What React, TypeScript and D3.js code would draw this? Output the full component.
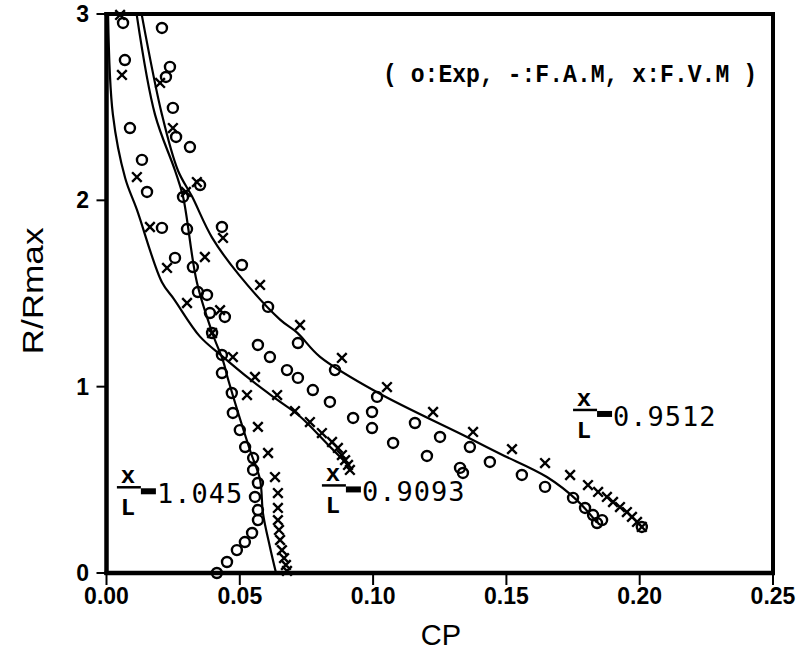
import React from 'react';
import * as d3 from 'd3';

const W = 806;
const H = 658;

const xDomain = [0, 0.25];
const yDomain = [0, 3];
const xTicks = [0, 0.05, 0.1, 0.15, 0.2, 0.25];
const xTickLabels = ['0.00', '0.05', '0.10', '0.15', '0.20', '0.25'];
const yTicks = [0, 1, 2, 3];
const yTickLabels = ['0', '1', '2', '3'];

// F.A.M (solid lines): [CP, R/Rmax]
const fam0909: [number, number][] = [
  [0.0006, 2.99], [0.0024, 2.46], [0.007, 2.12], [0.0114, 1.95], [0.0208, 1.56],
  [0.0253, 1.47], [0.035, 1.27], [0.0437, 1.16], [0.0538, 1.04], [0.064, 0.93],
  [0.0726, 0.84], [0.083, 0.69], [0.0913, 0.57],
];
const fam1045: [number, number][] = [
  [0.0114, 2.99], [0.0182, 2.46], [0.0257, 2.16], [0.0287, 2.02], [0.0339, 1.56],
  [0.0399, 1.28], [0.0437, 1.14], [0.0456, 1.04], [0.0538, 0.66], [0.0576, 0.5],
  [0.0587, 0.32], [0.0613, 0.14], [0.0636, 0.0],
];
const fam0951: [number, number][] = [
  [0.0133, 2.99], [0.0208, 2.46], [0.0268, 2.16], [0.0321, 2.02], [0.0396, 1.8],
  [0.0497, 1.6], [0.0651, 1.36], [0.0715, 1.29], [0.0801, 1.16], [0.1015, 0.97],
  [0.1352, 0.73], [0.1476, 0.64], [0.1652, 0.515], [0.1765, 0.39], [0.184, 0.27],
];

// Exp (circles)
const exp1045: [number, number][] = [
  [0.0208, 2.925], [0.0238, 2.716], [0.0223, 2.662], [0.0249, 2.496], [0.0261, 2.34],
  [0.0287, 2.018], [0.0302, 1.846], [0.0324, 1.642], [0.0343, 1.508], [0.0377, 1.492],
  [0.0388, 1.395], [0.0396, 1.288], [0.0433, 1.17], [0.0433, 1.073], [0.047, 0.966],
  [0.0474, 0.859], [0.05, 0.767], [0.052, 0.676], [0.055, 0.617], [0.055, 0.553],
  [0.0568, 0.483], [0.0557, 0.408], [0.0568, 0.338], [0.0568, 0.284], [0.0546, 0.215],
  [0.0519, 0.166], [0.0489, 0.123], [0.0452, 0.059], [0.0414, 0.0],
];
const exp0909: [number, number][] = [
  [0.0062, 2.952], [0.0069, 2.753], [0.0088, 2.388], [0.0133, 2.217], [0.0152, 2.045],
  [0.0208, 1.852], [0.0257, 1.691], [0.0444, 1.374], [0.0568, 1.224], [0.0613, 1.159],
  [0.0677, 1.089], [0.0718, 1.047], [0.0774, 0.982], [0.0838, 0.918], [0.0925, 0.832],
  [0.0996, 0.778], [0.1075, 0.698], [0.1202, 0.628], [0.1326, 0.564], [0.1337, 0.537],
];
const exp0951: [number, number][] = [
  [0.0313, 2.286], [0.0351, 2.082], [0.0433, 1.857], [0.0508, 1.653], [0.0606, 1.428],
  [0.0718, 1.234], [0.0857, 1.089], [0.1015, 0.945], [0.0996, 0.864], [0.1157, 0.805],
  [0.1251, 0.73], [0.1363, 0.676], [0.1438, 0.596], [0.1558, 0.526], [0.1645, 0.462],
  [0.175, 0.403], [0.1795, 0.349], [0.1825, 0.311], [0.1859, 0.284], [0.184, 0.268],
  [0.2008, 0.247],
];

// F.V.M (crosses)
const fvm0909: [number, number][] = [
  [0.0051, 2.995], [0.0058, 2.673], [0.0114, 2.125], [0.0163, 1.857], [0.0227, 1.637],
  [0.0302, 1.449], [0.0426, 1.411], [0.0474, 1.159], [0.0557, 1.052], [0.064, 0.955],
  [0.0707, 0.869], [0.0763, 0.81], [0.0808, 0.751], [0.0846, 0.703], [0.0868, 0.671],
  [0.0883, 0.633], [0.0895, 0.606], [0.0906, 0.58], [0.0913, 0.553],
];
const fvm1045: [number, number][] = [
  [0.0201, 2.63], [0.0298, 2.045], [0.0369, 1.696], [0.0396, 1.288], [0.0527, 0.955],
  [0.0568, 0.784], [0.0606, 0.644], [0.0632, 0.515], [0.0643, 0.429], [0.0643, 0.349],
  [0.0643, 0.284], [0.0647, 0.231], [0.0651, 0.177], [0.0658, 0.123], [0.0666, 0.08],
  [0.0673, 0.043], [0.0677, 0.011],
];
const fvm0951: [number, number][] = [
  [0.0249, 2.388], [0.0339, 2.098], [0.0437, 1.798], [0.0576, 1.546], [0.0726, 1.331],
  [0.0883, 1.154], [0.1052, 0.998], [0.1225, 0.864], [0.1375, 0.757], [0.1521, 0.665],
  [0.1645, 0.59], [0.1739, 0.526], [0.1806, 0.472], [0.1844, 0.435], [0.1877, 0.408],
  [0.19, 0.381], [0.1926, 0.354], [0.1952, 0.327], [0.1971, 0.301], [0.199, 0.274],
  [0.2008, 0.247],
];

// x/L labels: [value text, CP, R/Rmax] anchor (left of fraction bar)
const labelTexts = ['1.045', '0.9093', '0.9512'];
const labelCp = [0.0039, 0.0808, 0.175];
const labelR = [0.46, 0.47, 0.875];

const legendText = '( o:Exp, -:F.A.M, x:F.V.M )';

export default function App() {
  const x = d3.scaleLinear().domain(xDomain).range([106.5, 773]);
  const y = d3.scaleLinear().domain(yDomain).range([573, 14]);
  const line = d3
    .line<[number, number]>()
    .x((d) => x(d[0]))
    .y((d) => y(d[1]))
    .curve(d3.curveCatmullRom.alpha(0.5));

  const curves = [fam0909, fam1045, fam0951];
  const exps = [...exp1045, ...exp0909, ...exp0951];
  const fvms = [...fvm0909, ...fvm1045, ...fvm0951];
  const cs = 4.8;

  return (
    <svg
      width={W}
      height={H}
      style={{ position: 'absolute', left: 0, top: 0, background: '#fff' }}
    >
      <rect x={0} y={0} width={W} height={H} fill="#fff" />
      {/* curves */}
      {curves.map((c, i) => (
        <path key={i} d={line(c) || ''} fill="none" stroke="#000" strokeWidth={2.2} />
      ))}
      {/* circles */}
      {exps.map((d, i) => (
        <circle key={'e' + i} cx={x(d[0])} cy={y(d[1])} r={5} fill="none" stroke="#000" strokeWidth={2.4} />
      ))}
      {/* crosses */}
      {fvms.map((d, i) => {
        const cx = x(d[0]);
        const cy = y(d[1]);
        return (
          <path
            key={'f' + i}
            d={`M${cx - cs},${cy - cs}L${cx + cs},${cy + cs}M${cx - cs},${cy + cs}L${cx + cs},${cy - cs}`}
            stroke="#000"
            strokeWidth={2.4}
            fill="none"
          />
        );
      })}
      {/* frame */}
      <line x1={x(0.25)} y1={y(3)} x2={x(0.25)} y2={y(0)} stroke="#000" strokeWidth={4} />
      <line x1={x(0) - 2} y1={y(3)} x2={x(0.25) + 2} y2={y(3)} stroke="#000" strokeWidth={4} />
      <line x1={x(0)} y1={y(3) - 2} x2={x(0)} y2={y(0) + 2} stroke="#000" strokeWidth={4.5} />
      <line x1={x(0) - 2} y1={y(0)} x2={x(0.25) + 2} y2={y(0)} stroke="#000" strokeWidth={4.5} />
      {/* x ticks */}
      {xTicks.map((t, i) => (
        <g key={'xt' + i}>
          <line x1={x(t)} y1={y(0)} x2={x(t)} y2={y(0) + 12} stroke="#000" strokeWidth={2} />
          <text
            x={x(t)}
            y={604}
            textAnchor="middle"
            fontFamily="'Liberation Sans', Arial, sans-serif"
            fontWeight="bold"
            fontSize={23}
          >
            {xTickLabels[i]}
          </text>
        </g>
      ))}
      {/* y ticks */}
      {yTicks.map((t, i) => (
        <g key={'yt' + i}>
          <line x1={x(0) - 10} y1={y(t)} x2={x(0)} y2={y(t)} stroke="#000" strokeWidth={2} />
          <text
            x={89}
            y={y(t) + 8}
            textAnchor="end"
            fontFamily="'Liberation Sans', Arial, sans-serif"
            fontWeight="bold"
            fontSize={23}
          >
            {yTickLabels[i]}
          </text>
        </g>
      ))}
      {/* axis titles */}
      <text
        x={441}
        y={645}
        textAnchor="middle"
        fontFamily="'Liberation Sans', Arial, sans-serif"
        fontSize={29}
      >
        CP
      </text>
      <text
        transform="translate(43,291) rotate(-90)"
        textAnchor="middle"
        fontFamily="'Liberation Sans', Arial, sans-serif"
        fontSize={30}
        textLength={127}
        lengthAdjust="spacingAndGlyphs"
      >
        R/Rmax
      </text>
      {/* legend */}
      <text
        x={383}
        y={82}
        fontFamily="'Liberation Mono', 'Courier New', monospace"
        fontWeight="bold"
        fontSize={25}
        textLength={374}
        lengthAdjust="spacingAndGlyphs"
        xmlSpace="preserve"
        style={{ whiteSpace: 'pre' }}
      >
        {legendText}
      </text>
      {/* x/L labels */}
      {labelTexts.map((t, i) => {
        const bx = x(labelCp[i]);
        const by = y(labelR[i]);
        return (
          <g key={'lab' + i}>
            <text
              x={bx + 11}
              y={by - 4}
              textAnchor="middle"
              fontFamily="'Liberation Mono', 'Courier New', monospace"
              fontWeight="bold"
              fontSize={24}
            >
              x
            </text>
            <line x1={bx} y1={by} x2={bx + 24} y2={by} stroke="#000" strokeWidth={2.5} />
            <rect x={bx + 24} y={by + 1} width={15} height={6} fill="#000" />
            <text
              x={bx + 11}
              y={by + 28}
              textAnchor="middle"
              fontFamily="'Liberation Mono', 'Courier New', monospace"
              fontWeight="bold"
              fontSize={24}
            >
              L
            </text>
            <text
              x={bx + 40}
              y={by + 16}
              fontFamily="'DejaVu Sans Mono', monospace"
              fontSize={27}
              letterSpacing={1}
            >
              {t}
            </text>
          </g>
        );
      })}
    </svg>
  );
}
